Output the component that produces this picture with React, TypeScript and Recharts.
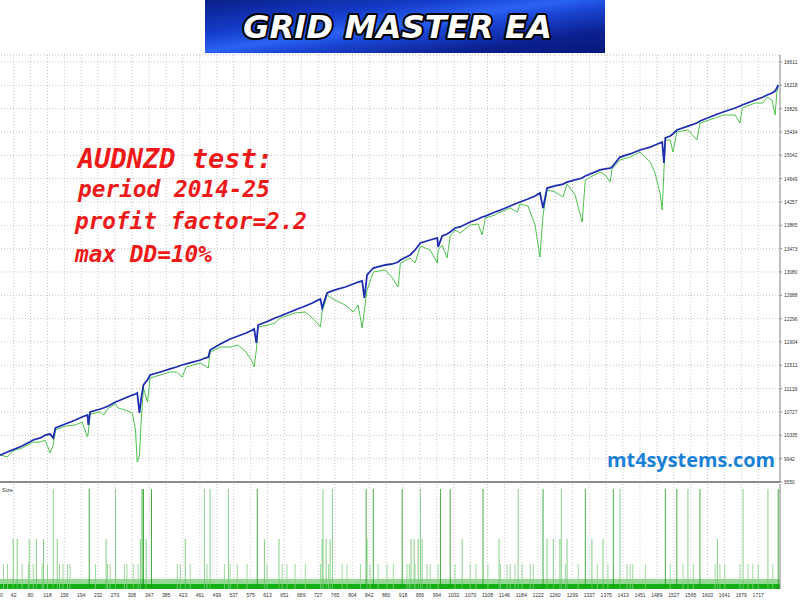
import React from 'react'
import {
  ComposedChart,
  Line,
  Bar,
  Area,
  Cell,
  XAxis,
  YAxis,
  CartesianGrid,
  ReferenceLine,
} from 'recharts'

// trade number, balance and equity
const trades = [
  0, 12, 28, 39, 61, 86, 102, 113, 124, 131, 136, 158, 181, 196, 208, 210, 214, 237, 244, 255,
  271, 277, 293, 309, 316, 320, 325, 329, 334, 343, 349, 372, 394, 408, 421, 430, 462, 473, 480, 484,
  507, 529, 547, 565, 579, 583, 588, 592, 615, 630, 642, 675, 698, 714, 727, 732, 736, 747, 765, 788,
  806, 817, 826, 831, 837, 851, 878, 894, 907, 912, 934, 945, 957, 979, 995, 997, 1006, 1017, 1024, 1035,
  1046, 1069, 1087, 1096, 1103, 1125, 1132, 1159, 1175, 1181, 1199, 1215, 1226, 1233, 1242, 1260, 1278, 1287, 1305, 1321,
  1328, 1361, 1373, 1384, 1388, 1406, 1429, 1451, 1474, 1485, 1496, 1501, 1505, 1508, 1519, 1525, 1534, 1559, 1579, 1586,
  1620, 1638, 1665, 1676, 1681, 1710, 1728, 1737, 1748, 1755, 1759, 1762,
]
const balance = [
  9970, 10004, 10054, 10088, 10155, 10256, 10290, 10340, 10357, 10290, 10458, 10525, 10592, 10643, 10676, 10508, 10727, 10777, 10794, 10828,
  10895, 10912, 10962, 11012, 11029, 11046, 10710, 10962, 11181, 11265, 11349, 11399, 11450, 11483, 11517, 11534, 11601, 11634, 11651, 11769,
  11870, 11954, 12004, 12055, 12105, 12122, 11887, 12189, 12256, 12307, 12340, 12441, 12509, 12559, 12609, 12626, 12475, 12727, 12778, 12828,
  12878, 12912, 12929, 12643, 13030, 13147, 13198, 13215, 13248, 13282, 13366, 13450, 13568, 13618, 13652, 13500, 13685, 13719, 13753, 13820,
  13837, 13921, 13971, 14005, 14021, 14089, 14106, 14190, 14240, 14257, 14307, 14358, 14408, 14156, 14492, 14526, 14559, 14593, 14627, 14660,
  14694, 14795, 14812, 14828, 14845, 15013, 15064, 15131, 15181, 15215, 15249, 15265, 14912, 15333, 15366, 15400, 15467, 15534, 15585, 15618,
  15719, 15770, 15837, 15871, 15887, 15971, 16022, 16055, 16089, 16123, 16173, 16224,
]
const equity = [
  9970, 10004, 9970, 10071, 10122, 10222, 10222, 10256, 10037, 10172, 10424, 10491, 10508, 10559, 10306, 10391, 10693, 10727, 10676, 10794,
  10861, 10794, 10760, 10710, 10424, 9886, 10004, 10592, 11130, 10895, 11298, 11349, 11399, 11399, 11315, 11483, 11550, 11500, 11466, 11735,
  11819, 11819, 11853, 11735, 11567, 11483, 11769, 12156, 12189, 12223, 12307, 12391, 12408, 12307, 12206, 12156, 12408, 12693, 12609, 12525,
  12408, 12525, 12139, 12441, 12778, 13080, 13114, 12979, 12828, 13231, 13315, 13231, 13517, 13450, 13231, 13450, 13534, 13315, 13685, 13786,
  13736, 13870, 13887, 13702, 13988, 14038, 14072, 14156, 14089, 14223, 14190, 13870, 13332, 14038, 14459, 14425, 14341, 14559, 14374, 13921,
  14627, 14761, 14711, 14593, 14812, 14963, 15013, 15097, 14929, 14744, 14408, 14122, 14795, 15299, 15299, 15097, 15434, 15467, 15299, 15585,
  15669, 15719, 15719, 15585, 15837, 15921, 15921, 16022, 15971, 15719, 16106, 16190,
]

const yTicks = [
  9550, 9942, 10335, 10727, 11119, 11511, 11904, 12296, 12688, 13080, 13473, 13865, 14257, 14649, 15042,
  15434, 15826, 16218, 16611,
]
const xTicks = [
  0, 42, 80, 118, 156, 194, 232, 270, 308, 347, 385, 423, 461, 499, 537, 575, 613, 651, 689, 727, 765,
  804, 842, 880, 918, 956, 994, 1032, 1070, 1108, 1146, 1184, 1222, 1260, 1299, 1337, 1375, 1413, 1451,
  1489, 1527, 1565, 1603, 1641, 1679, 1717,
]

// lot sizes of the "Size" panel
const baseLot = 0.01
const smallLot = 0.02
const topLot = 0.2
const midLot = 0.1
const lowLot = 0.05
const topTrades = [
  131, 212, 271, 331, 334, 352, 471, 484, 525, 590, 738, 759, 835, 851, 916, 957, 1002, 1024, 1098, 1177,
  1233, 1274, 1328, 1391, 1406, 1508, 1534, 1559, 1586, 1683, 1739, 1762,
]
const topDark = [212, 331, 334, 352, 590, 835, 851, 916, 1002, 1024, 1098, 1233, 1328, 1391, 1508, 1534, 1586, 1762]
const midTrades = [
  41, 50, 77, 93, 109, 140, 250, 327, 340, 428, 606, 639, 736, 745, 754, 837, 936, 943, 952, 961,
  1051, 1134, 1242, 1256, 1271, 1287, 1343, 1368, 1625,
]
const lowTrades = [
  19, 28, 61, 75, 86, 106, 118, 145, 153, 163, 169, 226, 253, 259, 291, 297, 311, 322, 410, 417,
  439, 477, 516, 529, 545, 567, 612, 646, 657, 675, 698, 732, 750, 781, 792, 822, 844, 862, 882, 896,
  927, 932, 945, 972, 979, 997, 1035, 1069, 1082, 1109, 1137, 1152, 1159, 1170, 1186, 1204, 1211, 1283, 1312, 1355,
  1379, 1422, 1429, 1435, 1463, 1519, 1548, 1571, 1620, 1631, 1642, 1676, 1694, 1705, 1717, 1750,
]

const X_MAX = 1766

const mainData = trades.map((t, i) => ({ t, b: balance[i], e: equity[i] }))

const bars = [
  ...topTrades.map((t) => ({ t, s: topLot, c: topDark.includes(t) ? '#169a16' : '#6cc66c' })),
  ...midTrades.map((t) => ({ t, s: midLot, c: '#66c266' })),
  ...lowTrades.map((t) => ({ t, s: lowLot, c: '#86d086' })),
].sort((a, b) => a.t - b.t)

const sizeData = [
  { t: 0, base: baseLot, band: smallLot },
  ...bars,
  { t: X_MAX, base: baseLot, band: smallLot },
]

const tickFont = 'Liberation Sans, Arial, sans-serif'

const EmptyTick = () => <g />

const XTick = (props: any) => {
  const { x, y, payload } = props
  const first = payload.value === 0
  const label = String(payload.value)
  return (
    <text
      x={first ? x + 5 : x}
      y={y + 8}
      textAnchor={first ? 'start' : 'middle'}
      fontSize={6}
      fontFamily={tickFont}
      fill="#333"
      textLength={label.length * 2.8}
      lengthAdjust="spacingAndGlyphs"
    >
      {label}
    </text>
  )
}

const YTick = (props: any) => {
  const { x, y, payload } = props
  const label = String(payload.value)
  return (
    <text
      x={x}
      y={y + 2}
      textAnchor="start"
      fontSize={5.5}
      fontFamily={tickFont}
      fill="#333"
      textLength={label.length * 2.7}
      lengthAdjust="spacingAndGlyphs"
    >
      {label}
    </text>
  )
}

export default function App() {
  return (
    <div
      style={{
        position: 'absolute',
        left: 0,
        top: 0,
        width: 800,
        height: 600,
        overflow: 'hidden',
        background: '#ffffff',
      }}
    >
      {/* Balance / equity */}
      <div style={{ position: 'absolute', left: -5, top: 50 }}>
        <ComposedChart width={805} height={437} data={mainData} margin={{ top: 5, right: 0, bottom: 5, left: 0 }}>
          <CartesianGrid stroke="#c6c6c6" strokeDasharray="1 2" />
          <XAxis
            dataKey="t"
            type="number"
            domain={[0, X_MAX]}
            ticks={xTicks}
            interval={0}
            height={0}
            tick={<EmptyTick />}
            axisLine={false}
            tickLine={false}
          />
          <YAxis
            orientation="right"
            type="number"
            domain={[9550, 16728]}
            ticks={yTicks}
            interval={0}
            width={20}
            axisLine={{ stroke: '#8a8a8a' }}
            tickLine={{ stroke: '#8a8a8a' }}
            tickSize={2}
            tick={<YTick />}
          />
          <ReferenceLine y={9550} stroke="#8c8c8c" strokeWidth={2} />
          <Line
            type="linear"
            dataKey="e"
            stroke="#4fc34f"
            strokeWidth={1}
            dot={false}
            isAnimationActive={false}
          />
          <Line
            type="linear"
            dataKey="b"
            stroke="#1f2eb0"
            strokeWidth={1.8}
            dot={false}
            isAnimationActive={false}
          />
        </ComposedChart>
      </div>

      {/* Size panel */}
      <div style={{ position: 'absolute', left: -5, top: 484 }}>
        <ComposedChart width={805} height={116} data={sizeData} margin={{ top: 0, right: 0, bottom: 0, left: 0 }}>
          <CartesianGrid stroke="#c6c6c6" strokeDasharray="1 2" horizontal={false} />
          <XAxis
            dataKey="t"
            type="number"
            domain={[0, X_MAX]}
            ticks={xTicks}
            interval={0}
            height={11}
            tickSize={0}
            tickMargin={0}
            axisLine={false}
            tickLine={false}
            tick={<XTick />}
          />
          <YAxis
            orientation="right"
            type="number"
            domain={[0, 0.21]}
            width={20}
            tick={false}
            tickLine={false}
            axisLine={{ stroke: '#8a8a8a' }}
          />
          <Area
            type="linear"
            dataKey="band"
            stroke="none"
            fill="#97d897"
            fillOpacity={1}
            connectNulls
            isAnimationActive={false}
          />
          <Area
            type="linear"
            dataKey="base"
            stroke="none"
            fill="#12b012"
            fillOpacity={1}
            connectNulls
            isAnimationActive={false}
          />
          <Bar dataKey="s" barSize={2} isAnimationActive={false}>
            {sizeData.map((d: any, i) => (
              <Cell key={i} fill={d.c || '#12b012'} />
            ))}
          </Bar>
        </ComposedChart>
      </div>

      {/* Banner */}
      <div
        style={{
          position: 'absolute',
          left: 205,
          top: 0,
          width: 400,
          height: 53,
          background:
            'linear-gradient(172deg, #0a1e88 0%, #143cc8 30%, #2a62f4 47%, #1a45d2 58%, #0b2090 80%, #08187a 100%)',
        }}
      />

      <svg width={800} height={600} style={{ position: 'absolute', left: 0, top: 0, pointerEvents: 'none' }}>
        <text
          x={243}
          y={38}
          fontFamily="DejaVu Sans, Verdana, sans-serif"
          fontWeight="bold"
          fontStyle="italic"
          fontSize={32}
          fill="#ffffff"
          stroke="#000000"
          strokeWidth={4}
          strokeLinejoin="round"
          paintOrder="stroke"
          textLength={309}
          lengthAdjust="spacingAndGlyphs"
        >
          GRID MASTER EA
        </text>

        <g fontFamily="DejaVu Sans Mono, monospace" fontWeight="bold" fontStyle="italic" fill="#ee1a1a">
          <text x={78} y={168} fontSize={27} textLength={195} lengthAdjust="spacingAndGlyphs">
            AUDNZD test:
          </text>
          <text x={78} y={197} fontSize={23} textLength={192} lengthAdjust="spacingAndGlyphs">
            period 2014-25
          </text>
          <text x={75} y={229} fontSize={23} textLength={232} lengthAdjust="spacingAndGlyphs">
            profit factor=2.2
          </text>
          <text x={75} y={262} fontSize={23} textLength={137} lengthAdjust="spacingAndGlyphs">
            max DD=10%
          </text>
        </g>

        <text
          x={607}
          y={467}
          fontFamily="Open Sans, Noto Sans, sans-serif"
          fontWeight="bold"
          fontSize={20}
          fill="#1a80d8"
          textLength={168}
          lengthAdjust="spacingAndGlyphs"
        >
          mt4systems.com
        </text>

        <text x={2} y={492} fontSize={5.5} fontFamily={tickFont} fill="#333">
          Size
        </text>
      </svg>
    </div>
  )
}
